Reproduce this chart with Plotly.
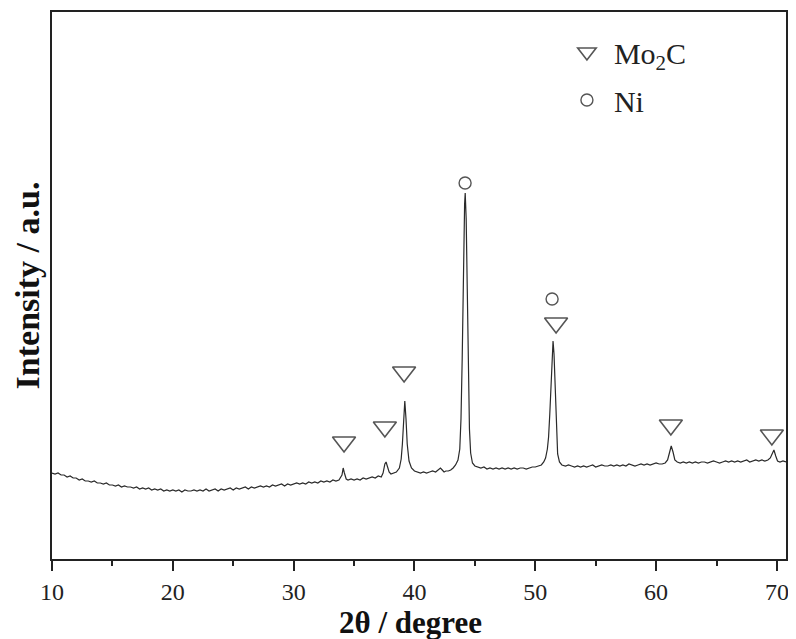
import plotly.graph_objects as go

# XRD pattern (2θ in degrees, intensity in arbitrary units)
two_theta = [
    10.0, 10.25, 10.5, 10.75, 11.0, 11.25, 11.5, 11.75, 12.0, 12.25, 12.5, 12.75, 13.0, 13.25, 13.5, 13.75,
    14.0, 14.25, 14.5, 14.75, 15.0, 15.25, 15.5, 15.75, 16.0, 16.25, 16.5, 16.75, 17.0, 17.25, 17.5, 17.75,
    18.0, 18.25, 18.5, 18.75, 19.0, 19.25, 19.5, 19.75, 20.0, 20.25, 20.5, 20.75, 21.0, 21.25, 21.5, 21.75,
    22.0, 22.25, 22.5, 22.75, 23.0, 23.25, 23.5, 23.75, 24.0, 24.25, 24.5, 24.75, 25.0, 25.25, 25.5, 25.75,
    26.0, 26.25, 26.5, 26.75, 27.0, 27.25, 27.5, 27.75, 28.0, 28.25, 28.5, 28.75, 29.0, 29.25, 29.5, 29.75,
    30.0, 30.25, 30.5, 30.75, 31.0, 31.25, 31.5, 31.75, 32.0, 32.25, 32.5, 32.75, 33.0, 33.25, 33.5, 33.75,
    34.0, 34.1, 34.2, 34.35, 34.5, 34.75, 35.0, 35.25, 35.5, 35.75, 36.0, 36.25, 36.5, 36.75, 37.0, 37.25,
    37.4, 37.55, 37.65, 37.75, 37.9, 38.05, 38.25, 38.5, 38.75, 38.9, 39.0, 39.1, 39.2, 39.3, 39.4, 39.55,
    39.75, 40.0, 40.25, 40.5, 40.75, 41.0, 41.25, 41.5, 41.75, 42.0, 42.15, 42.3, 42.45, 42.6, 42.8, 43.0,
    43.2, 43.4, 43.6, 43.75, 43.85, 43.95, 44.05, 44.15, 44.2, 44.28, 44.37, 44.45, 44.55, 44.65, 44.8, 45.0,
    45.25, 45.5, 45.75, 46.0, 46.25, 46.5, 46.75, 47.0, 47.25, 47.5, 47.75, 48.0, 48.25, 48.5, 48.75, 49.0,
    49.25, 49.5, 49.75, 50.0, 50.25, 50.5, 50.7, 50.85, 51.0, 51.1, 51.2, 51.3, 51.4, 51.47, 51.55, 51.65,
    51.75, 51.85, 52.0, 52.2, 52.5, 52.75, 53.0, 53.25, 53.5, 53.75, 54.0, 54.25, 54.5, 54.75, 55.0, 55.25,
    55.5, 55.75, 56.0, 56.25, 56.5, 56.75, 57.0, 57.25, 57.5, 57.75, 58.0, 58.25, 58.5, 58.75, 59.0, 59.25,
    59.5, 59.75, 60.0, 60.25, 60.5, 60.75, 60.95, 61.1, 61.25, 61.4, 61.55, 61.75, 62.0, 62.25, 62.5, 62.75,
    63.0, 63.25, 63.5, 63.75, 64.0, 64.25, 64.5, 64.75, 65.0, 65.25, 65.5, 65.75, 66.0, 66.25, 66.5, 66.75,
    67.0, 67.25, 67.5, 67.75, 68.0, 68.25, 68.5, 68.75, 69.0, 69.25, 69.45, 69.6, 69.75, 69.9, 70.05, 70.25,
    70.5, 70.75,
]
intensity = [
    86, 85, 86, 84, 84, 82, 83, 81, 81, 79, 80, 78, 78, 77, 78, 76,
    76, 75, 76, 74, 74, 73, 74, 72, 73, 72, 72, 71, 72, 70, 71, 70,
    71, 69, 70, 69, 70, 68, 69, 68, 69, 68, 69, 67, 69, 68, 68, 69,
    68, 69, 68, 70, 68, 69, 70, 68, 70, 69, 70, 71, 69, 71, 70, 71,
    72, 70, 72, 71, 72, 73, 72, 73, 72, 74, 73, 74, 75, 73, 75, 74,
    75, 76, 75, 76, 75, 77, 76, 77, 76, 78, 77, 78, 77, 79, 78, 79,
    84, 91, 86, 80, 79, 80, 79, 80, 79, 81, 80, 81, 82, 81, 83, 82,
    86, 95, 97, 93, 87, 85, 86, 87, 91, 100, 115, 140, 158, 140, 115, 98,
    91, 88, 87, 86, 87, 86, 87, 88, 87, 89, 91, 89, 87, 88, 88, 89,
    91, 94, 99, 110, 140, 200, 290, 355, 366, 340, 270, 190, 130, 106, 96, 93,
    92, 91, 92, 90, 91, 90, 91, 90, 91, 90, 91, 90, 91, 90, 91, 91,
    90, 91, 92, 92, 93, 94, 97, 101, 110, 122, 145, 180, 210, 218, 205, 165,
    125, 105, 97, 94, 93, 94, 93, 92, 93, 92, 93, 92, 93, 94, 92, 93,
    94, 93, 93, 94, 93, 94, 93, 94, 93, 95, 94, 93, 94, 95, 94, 95,
    94, 95, 96, 95, 95, 96, 99, 106, 113, 107, 99, 97, 96, 97, 96, 97,
    96, 97, 96, 97, 97, 96, 97, 98, 97, 96, 97, 98, 97, 98, 97, 98,
    97, 98, 99, 97, 98, 99, 98, 99, 98, 99, 101, 106, 109, 103, 98, 97,
    98, 97,
]

# Phase markers (position, height of symbol)
mo2c_x = [34.17, 37.55, 39.14, 51.72, 61.22, 69.58]
mo2c_y = [117, 132, 187, 236, 134, 124]
ni_x = [44.19, 51.39]
ni_y = [376, 260]

x_ticks = [10, 20, 30, 40, 50, 60, 70]
x_title = "<b>2θ / degree</b>"
y_title = "<b>Intensity / a.u.</b>"
serif = "Liberation Serif, Times New Roman, serif"

fig = go.Figure()
fig.add_trace(go.Scatter(
    x=two_theta, y=intensity, mode="lines",
    line=dict(color="#2a2a2a", width=1.2),
    showlegend=False, hoverinfo="skip",
))
fig.add_trace(go.Scatter(
    x=mo2c_x, y=mo2c_y, mode="markers", name="Mo<sub>2</sub>C", legend="legend",
    marker=dict(symbol="triangle-down-open", size=20, color="#555555",
                line=dict(width=1.6, color="#555555")),
))
fig.add_trace(go.Scatter(
    x=ni_x, y=ni_y, mode="markers", name="Ni", legend="legend2",
    marker=dict(symbol="circle-open", size=12, color="#555555",
                line=dict(width=1.4, color="#555555")),
))

legend_common = dict(
    xanchor="left", yanchor="middle", bgcolor="rgba(0,0,0,0)",
    font=dict(size=30, family=serif, color="#222222"),
    itemsizing="trace", itemwidth=44,
)

fig.update_layout(
    width=788, height=631,
    margin=dict(l=44, r=10, t=4, b=80, autoexpand=False),
    paper_bgcolor="white", plot_bgcolor="white",
    font=dict(family=serif, color="#222222"),
    legend=dict(x=0.692, y=0.927, **legend_common),
    legend2=dict(x=0.692, y=0.839, **legend_common),
    xaxis=dict(
        range=[10, 70.75], tickvals=x_ticks, ticktext=[str(t) for t in x_ticks],
        ticks="outside", ticklen=10, tickwidth=1.5, tickcolor="#222222",
        minor=dict(dtick=5, ticks="outside", ticklen=5, tickwidth=1.5, tickcolor="#222222"),
        showline=True, linewidth=2, linecolor="#222222", mirror=True,
        showgrid=False, zeroline=False,
        tickfont=dict(size=24, family=serif, color="#222222"),
    ),
    yaxis=dict(
        range=[0, 547], showticklabels=False, ticks="",
        showline=True, linewidth=2, linecolor="#222222", mirror=True,
        showgrid=False, zeroline=False,
        title=dict(text=y_title, font=dict(size=34, family=serif, color="#111111"), standoff=0),
    ),
    annotations=[dict(
        text=x_title, xref="paper", yref="paper", x=0.488, y=-0.081,
        xanchor="center", yanchor="top", showarrow=False,
        font=dict(size=31, family=serif, color="#111111"),
    )],
)

fig.write_html("out.html")
